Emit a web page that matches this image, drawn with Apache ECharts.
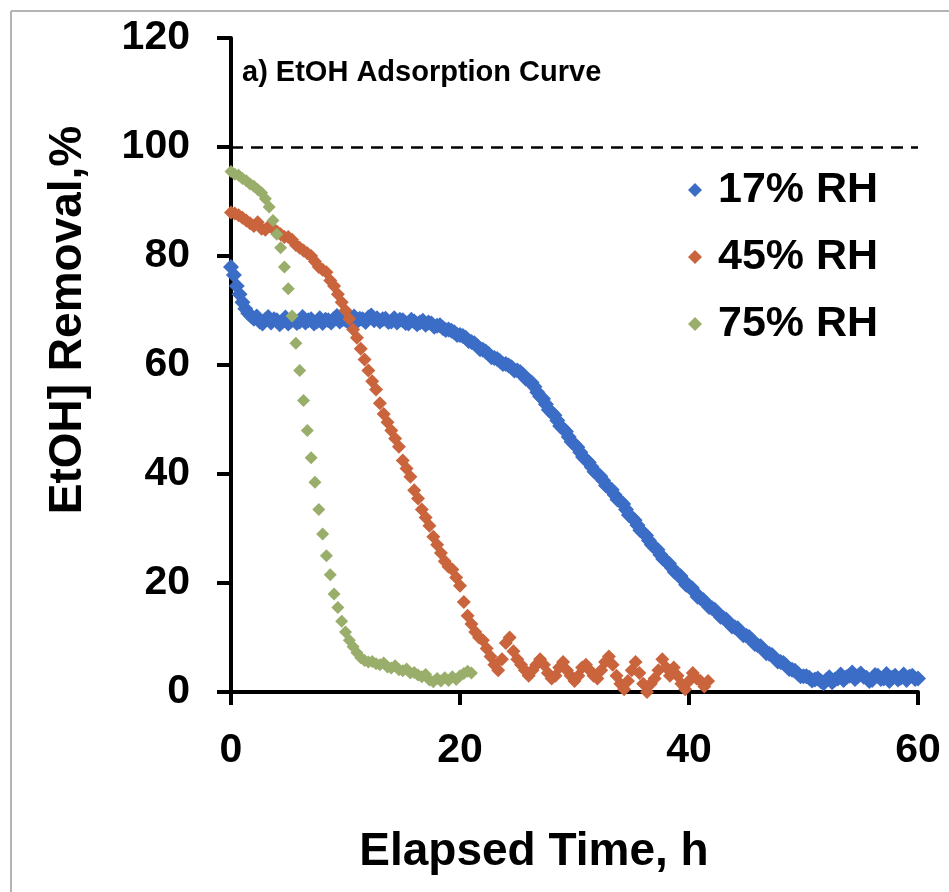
<!DOCTYPE html>
<html><head><meta charset="utf-8">
<script src="https://cdn.jsdelivr.net/npm/echarts@6/dist/echarts.min.js"></script>
<style>html,body{margin:0;padding:0;background:#fff}#c{width:949px;height:892px}</style>
</head><body><div id="c"></div>
<script>
const seriesNames = ['17% RH', '45% RH', '75% RH'];
const seriesColors = ['#3b6dc7', '#c9643c', '#9aae6b'];
const xTicks = [0, 20, 40, 60];
const yTicks = [0, 20, 40, 60, 80, 100, 120];
const referenceLevel = 100;

// sampling step of each record, hours
const stepRH17 = 0.25;
const stepRH45 = 1 / 3;
const stepRH75 = 1 / 3;

// EtOH removal (%)
const removalRH17 = [
  78, 76.5, 74.5, 73, 71.5, 70.3, 69.5, 69, 68.5, 68.9, 68, 67.6, 68.3, 68.8, 67.8, 68.4, 68.2, 67.5, 68, 68.7,
  67.6, 68.1, 68.3, 67.7, 68, 68.8, 67.8, 68.2, 68.4, 67.6, 68, 68.6, 67.7, 68.3, 68.2, 67.8, 68.5, 69, 68, 68.4,
  68.3, 67.9, 68.6, 68.9, 68, 68.5, 68.4, 67.9, 68.7, 69.1, 68.2, 68.6, 68, 68.4, 68.5, 67.9, 68, 68.6, 67.8, 68.3,
  68.2, 67.7, 67.6, 68.3, 68, 67.5, 67.8, 68.1, 67.4, 67.8, 67.6, 67, 67.2, 67.3, 66.8, 66.4, 66.5, 66.3, 66, 65.5,
  65.5, 65.3, 65, 64.4, 64.2, 64, 63.5, 62.9, 62.8, 62.5, 62, 61.4, 61.3, 61.1, 60.7, 60.2, 60.2, 59.9, 59.6, 59,
  59, 58.7, 58.2, 57.5, 57.2, 56.8, 56, 55, 54.2, 53.8, 52.8, 51.8, 51.3, 50.8, 49.8, 48.8, 48.3, 47.8, 46.8, 45.9,
  45.4, 44.9, 44, 43.1, 42.6, 42.1, 41.3, 40.4, 40, 39.6, 38.8, 37.9, 37.5, 37.1, 36.2, 35.3, 35, 34.5, 33.5, 32.5,
  32, 31.5, 30.6, 29.7, 29.2, 28.7, 27.8, 27, 26.5, 26.1, 25.2, 24.4, 24, 23.6, 22.8, 22, 21.6, 21.3, 20.5, 19.7,
  19.4, 19.1, 18.3, 17.5, 17.2, 16.9, 16.3, 15.6, 15.4, 15.1, 14.5, 13.8, 13.6, 13.3, 12.7, 12, 11.9, 11.7, 11, 10.4,
  10.3, 10.1, 9.5, 8.8, 8.6, 8.4, 7.8, 7.1, 7, 6.8, 6.2, 5.6, 5.5, 5.3, 4.8, 4.2, 4.1, 3.9, 3.4, 2.9,
  2.9, 2.9, 2.6, 2.1, 2.3, 2.5, 2, 1.6, 2.2, 2.7, 1.8, 2.3, 2.5, 3.2, 2.2, 2.7, 3, 3.6, 2.4, 2.9,
  3.4, 2.8, 2.6, 2, 2.2, 3.1, 3, 2.4, 2.5, 3.3, 2, 2.6, 3, 2.3, 2.6, 3.2, 2.2, 2.8, 3, 2.4,
  2.5
];
const removalRH45 = [
  88, 87.8, 87.5, 87, 86.5, 86, 85.5, 86.2, 85, 84.8, 85.5, 85, 84.5, 84, 83.5, 83.5, 83, 82, 81.5, 81,
  80.5, 80, 79, 78, 77.5, 77, 75.5, 74.5, 73, 71.5, 70, 68.5, 66.5, 65, 63, 61, 59, 57, 55.5, 53,
  51, 49.5, 48, 46.5, 45, 42.5, 41, 39.5, 37, 35.5, 33.5, 32, 30.5, 28.5, 27, 25.5, 24, 23, 22.5, 21,
  19.5, 16.5, 14, 12.5, 11, 10, 9.5, 8, 6.5, 5, 4, 6, 9, 10, 7.5, 6, 5, 4, 3, 4,
  5, 6, 5, 3.5, 2.5, 3, 4.5, 5.5, 4, 3, 2, 3, 4.5, 5, 4, 3, 2.5, 4, 5.5, 6.5,
  5, 3, 1.5, 0.5, 2, 4, 5.5, 3.5, 1.5, 0, 1.5, 2.5, 4, 6, 4.5, 3, 4.5, 3, 1.5, 0.5,
  2, 3.5, 2.5, 2, 1, 2
];
const removalRH75 = [
  95.5, 95, 94.8, 94.2, 93.8, 93.2, 92.8, 92.2, 91.6, 90.5, 89, 86.5, 84, 81.5, 78, 74, 69, 64, 59, 53.5,
  48, 43, 38.5, 33.5, 29, 25, 21.5, 18, 15.5, 13, 11, 9.5, 8.3, 7.2, 6.3, 5.8, 5.5, 5.6, 5.2, 5,
  5.3, 4.6, 4.4, 4.8, 4.1, 3.9, 4.2, 3.5, 3.6, 3.1, 2.8, 3.2, 2.2, 1.9, 2.5, 2, 2.6, 2.1, 2.8, 2.3,
  3, 3.4, 3.8, 3.5
];

const FONT = '"Liberation Sans", Arial, sans-serif';

function toPoints(values, step) {
  return values.map((v, i) => [Math.round(i * step * 1000) / 1000, v]);
}

const records = [
  { values: removalRH17, step: stepRH17, size: 16 },
  { values: removalRH45, step: stepRH45, size: 14 },
  { values: removalRH75, step: stepRH75, size: 13 }
];

const series = records.map((r, k) => ({
  name: seriesNames[k],
  type: 'scatter',
  symbol: 'diamond',
  symbolSize: r.size,
  itemStyle: { color: seriesColors[k], opacity: 1 },
  data: toPoints(r.values, r.step),
  z: 2 + k,
  animation: false
}));

series[0].markLine = {
  silent: true,
  symbol: 'none',
  label: { show: false },
  lineStyle: { color: '#000', type: [12, 8], width: 2.5 },
  data: [[{ coord: [xTicks[0], referenceLevel] }, { coord: [xTicks[xTicks.length - 1], referenceLevel] }]],
  animation: false
};

const chart = echarts.init(document.getElementById('c'), null, { renderer: 'canvas' });
chart.setOption({
  animation: false,
  backgroundColor: '#fff',
  textStyle: { fontFamily: FONT },
  title: {
    text: 'a) EtOH Adsorption Curve',
    left: 242, top: 58, padding: 0,
    textStyle: { fontSize: 29, fontWeight: 'bold', color: '#000', fontFamily: FONT }
  },
  legend: {
    orient: 'vertical',
    left: 683, top: 160,
    itemWidth: 14, itemHeight: 14, itemGap: 17,
    icon: 'diamond',
    data: seriesNames,
    textStyle: { fontSize: 43, fontWeight: 'bold', color: '#000', fontFamily: FONT, lineHeight: 50, padding: [0, 0, 0, 11] }
  },
  grid: { left: 231, right: 31, top: 38, bottom: 200, containLabel: false },
  xAxis: {
    type: 'value', min: xTicks[0], max: xTicks[xTicks.length - 1], interval: 20,
    axisLine: { show: true, onZero: false, lineStyle: { color: '#000', width: 4 } },
    axisTick: { show: true, length: 13, lineStyle: { color: '#000', width: 4 } },
    splitLine: { show: false },
    axisLabel: { fontSize: 41, fontWeight: 'bold', color: '#000', margin: 38, fontFamily: FONT }
  },
  yAxis: {
    type: 'value', min: yTicks[0], max: yTicks[yTicks.length - 1], interval: 20,
    axisLine: { show: true, onZero: false, lineStyle: { color: '#000', width: 4 } },
    axisTick: { show: true, length: 14, lineStyle: { color: '#000', width: 4 } },
    splitLine: { show: false },
    axisLabel: { fontSize: 41, fontWeight: 'bold', color: '#000', margin: 41, fontFamily: FONT }
  },
  graphic: [
    { type: 'line', shape: { x1: 11, y1: 11, x2: 949, y2: 11 }, style: { stroke: '#b4b4b4', lineWidth: 2 } },
    { type: 'line', shape: { x1: 11, y1: 11, x2: 11, y2: 892 }, style: { stroke: '#b4b4b4', lineWidth: 2 } },
    { type: 'text', x: 534, y: 852,
      style: { text: 'Elapsed Time, h', font: 'bold 46px ' + FONT, fill: '#000', align: 'center', verticalAlign: 'middle', textAlign: 'center', textVerticalAlign: 'middle' } },
    { type: 'text', x: 68, y: 320, rotation: Math.PI / 2,
      style: { text: 'EtOH] Removal,%', font: 'bold 46px ' + FONT, fill: '#000', align: 'center', verticalAlign: 'middle', textAlign: 'center', textVerticalAlign: 'middle' } }
  ],
  series: series
});
</script>
</body></html>
